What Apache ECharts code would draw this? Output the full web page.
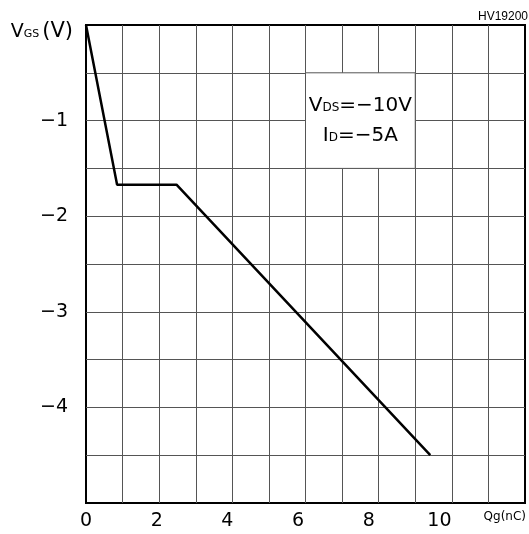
<!DOCTYPE html>
<html>
<head>
<meta charset="utf-8">
<script src="https://cdn.jsdelivr.net/npm/echarts@6/dist/echarts.min.js"></script>
<style>html,body{margin:0;padding:0;background:#fff;}#c{width:529px;height:534px;}</style>
</head>
<body>
<div id="c"></div>
<script>
// Gate charge curve (Qg in nC on the labelled axis, VGS in V)
const qgValues = [0, 0.88, 2.56, 9.74];
const vgsValues = [0, -1.67, -1.67, -4.5];
// Labelled x ticks and y ticks
const xTickLabels = [0, 2, 4, 6, 8, 10];
const yTickLabels = [-1, -2, -3, -4];
// Condition box (grid cells)
const boxQg = [6, 9];
const boxVgs = [-1.5, -0.5];
const conditionLines = ['V|DS|=−10V', 'I|D|=−5A'];
const chartId = 'HV19200';

const FONT = 'DejaVu Sans';
const chart = echarts.init(document.getElementById('c'), null, {renderer: 'canvas'});

const curve = qgValues.map((q, i) => [q, vgsValues[i]]);
const richLines = conditionLines.map(s => {
  const [a, b, c] = s.split('|');
  return '{v|' + a + '}{s|' + b + '}{v|' + c + '}';
}).join('\n');

chart.setOption({
  animation: false,
  backgroundColor: '#fff',
  title: {
    text: chartId, right: 1, top: 11, padding: 0,
    textStyle: {fontFamily: 'Liberation Sans Narrow, Liberation Sans', fontSize: 12, fontWeight: 'normal', color: '#000'}
  },
  grid: {left: 86, top: 25, width: 442, height: 478, show: true, borderColor: '#000', borderWidth: 2, backgroundColor: 'transparent'},
  xAxis: [
    {
      type: 'value', min: 0, max: 12, interval: 1, position: 'bottom',
      axisLine: {show: false}, axisTick: {show: false}, axisLabel: {show: false},
      splitLine: {show: true, showMinLine: false, showMaxLine: false, lineStyle: {color: '#555', width: 1}}
    },
    {
      type: 'value', min: 0, max: 12.42, interval: 2, position: 'bottom',
      axisLine: {show: false}, axisTick: {show: false}, splitLine: {show: false},
      axisLabel: {
        margin: 9, color: '#000', fontFamily: FONT, fontSize: 19,
        formatter: v => xTickLabels.includes(v) ? String(v) : ''
      },
      name: 'Qg(nC)', nameLocation: 'end', nameGap: 0,
      nameTextStyle: {fontFamily: FONT, fontSize: 12, color: '#000', align: 'right', verticalAlign: 'top', padding: [8, -1, 0, 0]}
    }
  ],
  yAxis: {
    type: 'value', min: -5, max: 0, interval: 0.5,
    axisLine: {show: false}, axisTick: {show: false},
    splitLine: {show: true, showMinLine: false, showMaxLine: false, lineStyle: {color: '#555', width: 1}},
    axisLabel: {
      margin: 18, color: '#000', fontFamily: FONT, fontSize: 19,
      formatter: v => yTickLabels.includes(v) ? '−' + Math.abs(v) : ''
    },
    name: '{v|V}{s|GS}{p|(V)}', nameLocation: 'end', nameGap: -7,
    nameTextStyle: {
      align: 'right', verticalAlign: 'middle', padding: [0, 13, 0, 0],
      rich: {
        v: {fontFamily: FONT, fontSize: 19, color: '#000'},
        s: {fontFamily: FONT, fontSize: 11, color: '#000', verticalAlign: 'bottom', padding: [0, 0, 3, 0]},
        p: {fontFamily: FONT, fontSize: 21, color: '#000', padding: [0, 0, 0, 3]}
      }
    }
  },
  series: [
    {
      type: 'line', xAxisIndex: 1, yAxisIndex: 0, data: curve,
      showSymbol: false, symbol: 'none', z: 5,
      lineStyle: {color: '#000', width: 2.5}
    },
    {
      type: 'line', xAxisIndex: 0, yAxisIndex: 0, data: [[boxQg[0], boxVgs[0]]],
      showSymbol: false, symbol: 'none', lineStyle: {opacity: 0}, z: 3,
      markArea: {
        silent: true,
        itemStyle: {color: '#fff', borderColor: '#555', borderWidth: 1},
        label: {
          show: true, position: 'inside', formatter: richLines, lineHeight: 30,
          align: 'center', verticalAlign: 'middle',
          rich: {
            v: {fontFamily: FONT, fontSize: 20, color: '#000', lineHeight: 30},
            s: {fontFamily: FONT, fontSize: 12, color: '#000', verticalAlign: 'bottom', padding: [0, 0, 7, 0], lineHeight: 30}
          }
        },
        data: [[{coord: [boxQg[0], boxVgs[1]]}, {coord: [boxQg[1], boxVgs[0]]}]]
      }
    }
  ]
});
</script>
</body>
</html>
